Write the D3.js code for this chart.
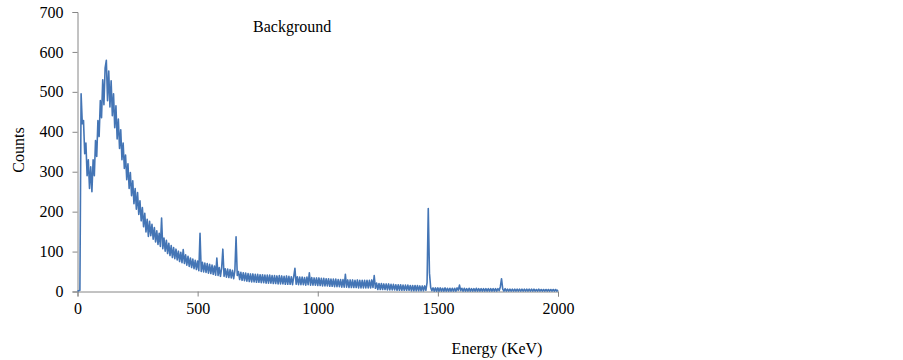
<!DOCTYPE html>
<html>
<head>
<meta charset="utf-8">
<script src="https://cdn.jsdelivr.net/npm/d3@7"></script>
<style>
  body { margin: 0; background: #fff; }
  svg text { font-family: "Liberation Serif", "Times New Roman", serif; fill: #000; }
</style>
</head>
<body>
<div id="chart"></div>
<script>
// Spectrum counts, one value per 5 keV channel from 0 to 2000 keV
const binWidth = 5;
const counts = [
  // 0 - 95
  1, 2, 3, 495, 420, 428, 345, 372, 290, 330, 258, 312, 250, 330, 290, 378, 338, 428, 388, 478,
  // 100 - 195
  435, 530, 468, 560, 579, 478, 552, 462, 528, 440, 495, 410, 465, 382, 432, 358, 405, 330, 372, 308,
  // 200 - 295
  342, 280, 320, 258, 298, 240, 277, 220, 258, 206, 248, 193, 227, 177, 210, 162, 196, 149, 181, 138,
  // 300 - 395
  176, 140, 168, 131, 160, 124, 152, 118, 146, 113, 184, 107, 134, 101, 128, 95, 121, 90, 115, 85,
  // 400 - 495
  110, 82, 106, 79, 101, 75, 98, 72, 105, 70, 92, 66, 88, 63, 84, 60, 81, 57, 78, 55,
  // 500 - 595
  76, 52, 146, 50, 73, 49, 71, 48, 70, 46, 68, 45, 66, 43, 64, 41, 84, 40, 60, 38,
  // 600 - 695
  59, 106, 38, 57, 36, 56, 35, 55, 34, 53, 32, 52, 137, 40, 50, 30, 48, 28, 47, 27,
  // 700 - 795
  46, 26, 45, 25, 44, 24, 44, 24, 43, 23, 43, 23, 42, 22, 42, 22, 41, 21, 41, 21,
  // 800 - 895
  41, 21, 40, 20, 40, 20, 39, 19, 40, 19, 39, 19, 38, 18, 39, 18, 38, 18, 37, 17,
  // 900 - 995
  37, 58, 18, 37, 17, 36, 17, 36, 17, 35, 16, 36, 17, 47, 16, 35, 16, 34, 16, 34,
  // 1000 - 1095
  15, 34, 15, 33, 14, 33, 14, 32, 14, 32, 13, 31, 13, 31, 12, 31, 12, 30, 12, 30,
  // 1100 - 1195
  11, 30, 11, 43, 11, 29, 10, 29, 10, 29, 10, 28, 10, 29, 9, 28, 9, 28, 9, 28,
  // 1200 - 1295
  9, 28, 9, 28, 9, 29, 10, 40, 8, 21, 5, 20, 5, 20, 5, 19, 5, 19, 4, 19,
  // 1300 - 1395
  4, 18, 4, 18, 4, 17, 3, 17, 3, 17, 3, 16, 3, 16, 3, 16, 3, 15, 2, 15,
  // 1400 - 1495
  2, 15, 2, 15, 2, 14, 2, 14, 2, 14, 3, 22, 208, 46, 10, 2, 9, 1, 9, 1,
  // 1500 - 1595
  9, 1, 9, 1, 8, 1, 9, 1, 8, 1, 8, 1, 8, 1, 8, 1, 9, 3, 16, 2,
  // 1600 - 1695
  8, 1, 8, 1, 7, 1, 8, 1, 7, 1, 7, 1, 8, 1, 7, 1, 7, 1, 7, 1,
  // 1700 - 1795
  7, 1, 7, 1, 7, 1, 7, 1, 7, 1, 7, 2, 12, 32, 6, 1, 7, 1, 6, 1,
  // 1800 - 1895
  6, 1, 6, 1, 6, 1, 6, 1, 6, 1, 6, 1, 6, 1, 6, 1, 6, 1, 6, 1,
  // 1900 - 2000
  6, 1, 5, 1, 6, 1, 5, 1, 5, 1, 5, 1, 5, 1, 5, 1, 5, 1, 5, 1, 4
];
const xTicks = [0, 500, 1000, 1500, 2000];
const yTicks = [0, 100, 200, 300, 400, 500, 600, 700];

const width = 903;
const height = 360;
const margins = { top: 12, right: 345, bottom: 68.5, left: 77.5 };
const innerWidth = width - margins.left - margins.right;
const innerHeight = height - margins.top - margins.bottom;
const fontFamily = '"Liberation Serif", "Times New Roman", serif';

const svg = d3.select('#chart')
  .append('svg')
  .attr('width', width)
  .attr('height', height);

const g = svg.append('g')
  .attr('transform', `translate(${margins.left},${margins.top})`);

const xScale = d3.scaleLinear().domain([0, 2000]).range([0, innerWidth]);
const yScale = d3.scaleLinear().domain([0, 700]).range([innerHeight, 0]);

// y axis
const yAxis = g.append('g')
  .call(d3.axisLeft(yScale).tickValues(yTicks).tickSize(5).tickPadding(9).tickFormat(d3.format('d')))
  .attr('font-size', 16)
  .attr('font-family', fontFamily);
yAxis.selectAll('line, path').attr('stroke', '#868686');

// x axis
const xAxis = g.append('g')
  .attr('transform', `translate(0,${innerHeight})`)
  .call(d3.axisBottom(xScale).tickValues(xTicks).tickSize(5).tickPadding(6).tickFormat(d3.format('d')))
  .attr('font-size', 16)
  .attr('font-family', fontFamily);
xAxis.selectAll('line, path').attr('stroke', '#868686');

// spectrum line
const line = d3.line()
  .x((d, i) => xScale(i * binWidth))
  .y(d => yScale(d));

g.append('path')
  .datum(counts)
  .attr('fill', 'none')
  .attr('stroke', '#4475b5')
  .attr('stroke-width', 1.6)
  .attr('stroke-linejoin', 'round')
  .attr('d', line);

// labels
svg.append('text')
  .attr('x', 253)
  .attr('y', 32)
  .attr('font-size', 16)
  .text('Background');

svg.append('text')
  .attr('transform', 'translate(24,150) rotate(-90)')
  .attr('text-anchor', 'middle')
  .attr('font-size', 16)
  .text('Counts');

svg.append('text')
  .attr('x', 497)
  .attr('y', 354)
  .attr('text-anchor', 'middle')
  .attr('font-size', 16)
  .text('Energy (KeV)');
</script>
</body>
</html>
